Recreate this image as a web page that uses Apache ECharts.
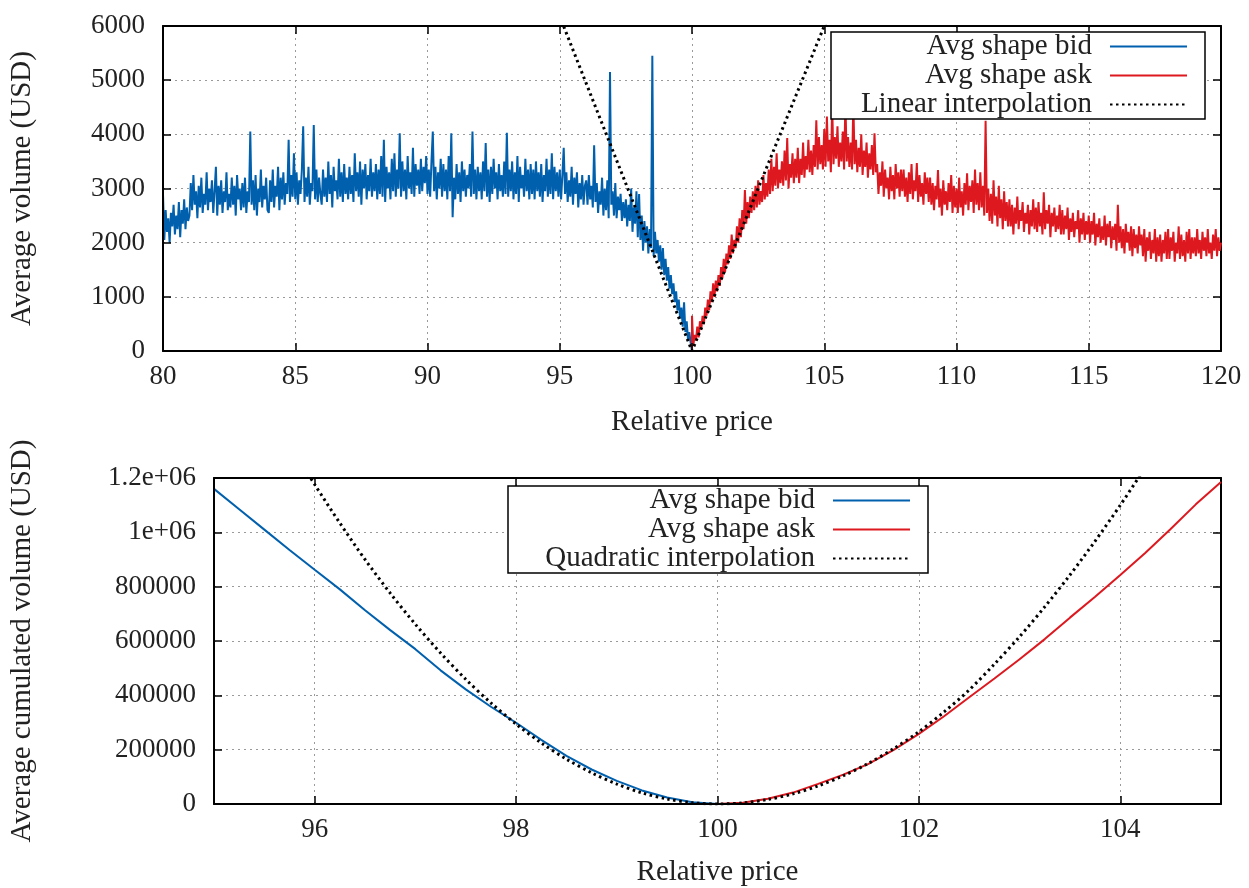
<!DOCTYPE html>
<html><head><meta charset="utf-8">
<script src="https://cdn.jsdelivr.net/npm/echarts@6/dist/echarts.min.js"></script>
<style>html,body{margin:0;padding:0;background:#fff}#c{width:1249px;height:888px}</style>
</head><body><div id="c"></div><script>
// ---- DATA ----
const bidStart = 80, askStart = 100, noiseStep = 0.05;
const bidVolume = [
 2900,2050,2600,2200,2450,2000,2550,2300,2700,2150,2500,2250,2750,2100,2600,2350,2800,2250,2650,2400,
 2500,3100,2600,3250,2700,2950,2450,3050,2650,3200,2550,2900,2700,3300,2600,3000,2750,3150,2550,2950,
 3400,2500,3050,2700,3150,2550,2950,2750,3300,2600,2900,2650,3200,2700,3050,2500,3250,2800,3000,2600,
 3100,2650,3200,2550,2950,2750,4050,2700,3150,2600,3250,2500,3000,2750,3350,2650,3050,2800,3200,2600,
 2550,3150,2750,3350,2650,3050,2850,3400,2600,3200,2800,3300,2700,3100,2900,3900,2750,3250,2850,3650,
 2800,3300,2700,3150,2900,3350,4150,2750,3200,2850,3400,2700,3100,2950,4170,2800,3350,2750,3200,2900,
 2700,3350,2850,3200,2750,3500,2900,3250,2650,3400,2950,3150,2800,3550,2850,3300,2750,3450,2900,3200,
 2800,3400,2900,3250,2750,3650,2950,3300,2850,3500,2700,3350,3000,3450,2800,3250,2950,3550,2850,3300,
 2950,3450,2800,3350,2900,3600,2850,3900,2750,3400,3000,3300,2800,3550,2950,3650,2850,3350,3000,4020,
 2850,3500,2950,3350,2800,3600,3000,3300,2900,3750,2850,3450,3050,3350,2900,3550,2950,3400,3100,3600,
 2900,3350,2850,3500,4050,2950,3400,2800,3300,3000,3550,2850,3450,2950,3350,2800,3600,2950,4020,2470,
 3200,2800,3450,2900,3300,2750,3500,2950,3350,2850,3250,3000,3450,2850,4050,2900,3350,2800,3400,2950,
 3300,2800,3500,2950,3840,2850,3350,2750,3400,2900,3550,3000,3300,2800,3450,2950,3250,2850,3500,2900,
 4030,2850,3350,2950,3500,2800,3300,2900,3600,2750,3400,3000,3250,2850,3550,2950,3350,2800,3450,2900,
 3350,2800,3500,2950,3300,2850,3450,2750,3250,2950,3550,2850,3350,2900,3650,2800,3400,2950,3300,2850,
 3350,2800,3250,3750,2900,3300,2750,3150,2850,3400,2700,3200,2900,3300,2650,3100,2800,3250,2700,3050,
 3150,2700,3250,2800,3050,2650,3800,2750,3100,2550,2950,2700,3200,2500,3000,2600,3150,2450,5150,2700,
 2950,2500,3100,2450,2850,2600,2900,2400,2750,2450,2800,2300,2700,2400,3000,2200,2650,2350,2950,2100,
 2900,2050,2500,1850,2400,2000,2300,1800,2250,1900,5450,1750,2200,1800,2050,1650,1950,1500,1900,1400,
 1700,1300,1550,1150,1400,1050,1250,900,1100,750,950,600,800,450,900,350,550,200,350,150,
 0];
const askVolume = [
 650,100,300,200,450,250,550,400,650,500,800,650,950,750,1100,900,1250,1000,1300,1100,
 1400,1200,1550,1350,1700,1450,1800,1600,1950,1700,2150,1800,2050,1900,2300,2000,2450,2100,2600,2250,
 2970,2350,2750,2450,2850,2550,2950,2600,3050,2650,3150,2700,2950,2750,3250,2800,3100,2850,3350,2900,
 3550,2950,3400,3050,3650,3000,3350,3100,3500,3050,3700,3150,3930,3000,3450,3200,3650,3100,3550,3200,
 3750,3100,3550,3250,3850,3200,3600,3350,3900,3300,3700,3250,3800,3400,4260,3350,3950,3450,3800,3350,
 4100,3400,4330,3500,3900,3300,4540,3450,3950,3550,4150,3400,3850,3500,4050,3350,4600,3500,3950,3400,
 3850,3350,4580,3450,3900,3300,3750,3400,4000,3250,3700,3400,3850,3200,3650,3350,3800,3250,4020,3300,
 3450,2900,3300,3050,3500,2850,3350,3000,3200,2800,3400,2950,3250,2800,3450,3000,3300,2850,3350,2950,
 3350,2850,3200,2750,3300,2900,3450,2800,3150,2950,3470,2750,3250,2850,3100,2700,3300,2900,3200,2750,
 3200,2700,3100,2600,3050,2800,3340,2650,3000,2500,3150,2700,2950,2600,3100,2750,3250,2550,3050,2650,
 3000,2550,3200,2650,2950,2500,3100,2700,3280,2600,3050,2750,3150,2550,3350,2700,3100,2600,3300,2650,
 3050,2500,4250,2550,3000,2400,2900,2350,3150,2500,2850,2300,3050,2450,2800,2250,2950,2400,2750,2300,
 2800,2300,2700,2150,2650,2350,2850,2250,2600,2400,2750,2200,2550,2350,2700,2150,2600,2300,2800,2250,
 2650,2200,2750,2300,2550,2150,2930,2250,2600,2350,2700,2100,2550,2300,2650,2200,2500,2250,2700,2150,
 2600,2150,2500,2250,2650,2050,2450,2200,2550,2100,2400,2250,2600,2000,2450,2150,2550,2050,2400,2150,
 2500,2000,2400,2150,2550,1950,2350,2100,2450,2000,2300,2050,2500,1950,2350,2100,2400,1900,2300,2050,
 2350,1850,2700,2000,2300,1900,2250,1800,2350,2000,2200,1850,2300,1750,2250,1900,2150,1800,2300,1950,
 2150,1750,2250,1650,2100,1850,2200,1700,2050,1800,2250,1650,2100,1750,2150,1650,2050,1800,2200,1700,
 2250,1700,2100,1850,2200,1650,2000,1800,2300,1700,2150,1750,2050,1650,2200,1800,2250,1700,2100,1800,
 2100,1750,2250,1800,2050,1700,2200,1850,2100,1750,2250,1800,2000,1700,2150,1850,2250,1750,2100,1850,
 2000];
const linearX = [94.9, 100, 105.1];
const linearY = [6300, 0, 6120];

const cumBidX = [95,95.25,95.5,95.75,96,96.25,96.5,96.75,97,97.25,97.5,97.75,98,98.25,98.5,98.75,99,99.25,99.5,99.75,100,105];
const cumBidY = [1160000,1085000,1010000,935000,862000,790000,713000,640000,570000,492000,422000,358000,299000,236000,177000,127000,85000,50000,24000,6500,0,0];
const cumAskX = [95,100,100.25,100.5,100.75,101,101.25,101.5,101.75,102,102.25,102.5,102.75,103,103.25,103.5,103.75,104,104.25,104.5,104.75,105];
const cumAskY = [0,0,5000,19000,42000,74000,108000,148000,199000,258000,323000,393000,462000,533000,607000,686000,763000,843000,925000,1012000,1103000,1185000];
const quadX = [95.9,96,96.25,96.5,96.75,97,97.25,97.5,97.75,98,98.25,98.5,98.75,99,99.25,99.5,99.75,100,100.25,100.5,100.75,101,101.25,101.5,101.75,102,102.25,102.5,102.75,103,103.25,103.5,103.75,104,104.25];
const quadY = [1236000,1176000,1034000,900000,776000,661500,556000,459000,372000,294000,225000,165000,115000,73500,41000,18400,4600,0,4200,16700,37500,66500,104000,150000,204000,266000,339000,420000,515000,616000,726000,843000,968000,1100000,1240000];

const topXTicks = [80,85,90,95,100,105,110,115,120];
const topYTicks = ['0','1000','2000','3000','4000','5000','6000'];
const bottomYLabels = {0:'0',200000:'200000',400000:'400000',600000:'600000',800000:'800000',1000000:'1e+06',1200000:'1.2e+06'};
const names = ['Avg shape bid','Avg shape ask','Linear interpolation','Quadratic interpolation'];

// ---- build series data ----
const bidTop = bidVolume.map((v,i)=>[+(bidStart + i*noiseStep).toFixed(2), v]);
bidTop.push([120, 0]);
const askTop = [[80,0],[100,0]].concat(askVolume.map((v,i)=>[+(askStart + i*noiseStep).toFixed(2), v]));
const linTop = linearX.map((x,i)=>[x, linearY[i]]);
const cumBid = cumBidX.map((x,i)=>[x, cumBidY[i]]);
const cumAsk = cumAskX.map((x,i)=>[x, cumAskY[i]]);
const quad = quadX.map((x,i)=>[x, quadY[i]]);

const FONT = 'Liberation Serif';
const TXT = {fontFamily: FONT, fontSize: 27, color: '#222'};
const NAMETXT = {fontFamily: FONT, fontSize: 29, color: '#222'};
const BLUE = '#0060ad', RED = '#dd181f';
const axLine = {show: true, onZero: false, lineStyle: {color: '#000', width: 2}};
const axTick = {show: true, inside: true, length: 8, lineStyle: {color: '#000', width: 1.5}};
const split = {show: true, lineStyle: {color: '#9a9a9a', type: [2, 4], width: 1}};

// mirror axes (top / right) carry the dotted grid and sit below the data
function mirrorX(gi, extra) {
  return Object.assign({gridIndex: gi, type: 'value', position: 'top', z: 0, axisLine: axLine, axisTick: axTick,
    axisLabel: {show: false}, splitLine: split}, extra);
}
function mirrorY(gi, extra) {
  return Object.assign({gridIndex: gi, type: 'value', position: 'right', z: 0, axisLine: axLine, axisTick: axTick,
    axisLabel: {show: false}, splitLine: split}, extra);
}
function legendCfg(left, top, textWidth, data) {
  return {z: 12, left: left, top: top, orient: 'vertical', align: 'right', itemGap: 0, itemWidth: 77, itemHeight: 14,
    padding: [0, 17, 0, 17], borderColor: '#000', borderWidth: 1.5, backgroundColor: '#fff',
    data: data, selectedMode: false,
    itemStyle: {opacity: 0, borderWidth: 0},
    formatter: n => '{a|' + n + '}',
    textStyle: {rich: {a: {width: textWidth, align: 'right', fontFamily: FONT, fontSize: 29, color: '#222', lineHeight: 29, padding: [0, 13, 0, 0]}}}};
}

const chart = echarts.init(document.getElementById('c'), null, {renderer: 'canvas'});
const option = {
  animation: false,
  backgroundColor: '#fff',
  grid: [
    {left: 162, top: 26, width: 1059, height: 325},
    {left: 214, top: 478, width: 1007, height: 327}
  ],
  xAxis: [
    {gridIndex: 0, type: 'value', z: 10, min: topXTicks[0], max: topXTicks[topXTicks.length-1], interval: 5,
     name: 'Relative price', nameLocation: 'middle', nameGap: 57, nameTextStyle: NAMETXT,
     axisLine: axLine, axisTick: axTick, splitLine: {show: false},
     axisLabel: Object.assign({margin: 12}, TXT)},
    mirrorX(0, {min: 80, max: 120, interval: 5}),
    {gridIndex: 1, type: 'value', z: 10, min: 95, max: 105, splitNumber: 5,
     name: 'Relative price', nameLocation: 'middle', nameGap: 54, nameTextStyle: NAMETXT,
     axisLine: axLine, axisTick: axTick, splitLine: {show: false},
     axisLabel: Object.assign({margin: 12, showMinLabel: false, showMaxLabel: false}, TXT)},
    mirrorX(1, {min: 95, max: 105, splitNumber: 5})
  ],
  yAxis: [
    {gridIndex: 0, type: 'value', z: 10, min: 0, max: 6000, interval: 1000,
     name: 'Average volume (USD)', nameLocation: 'middle', nameGap: 126, nameRotate: 90, nameTextStyle: NAMETXT,
     axisLine: axLine, axisTick: axTick, splitLine: {show: false},
     axisLabel: Object.assign({margin: 18, formatter: (v, i) => topYTicks[i] !== undefined ? topYTicks[i] : String(v)}, TXT)},
    mirrorY(0, {min: 0, max: 6000, interval: 1000}),
    {gridIndex: 1, type: 'value', z: 10, min: 0, max: 1200000, interval: 200000,
     name: 'Average cumulated volume (USD)', nameLocation: 'middle', nameGap: 177, nameRotate: 90, nameTextStyle: NAMETXT,
     axisLine: axLine, axisTick: axTick, splitLine: {show: false},
     axisLabel: Object.assign({margin: 18, formatter: v => bottomYLabels[v] !== undefined ? bottomYLabels[v] : String(v)}, TXT)},
    mirrorY(1, {min: 0, max: 1200000, interval: 200000})
  ],
  legend: [
    legendCfg(831, 32, 244, [names[0], names[1], names[2]]),
    legendCfg(508, 486, 290, [names[0], names[1], names[3]])
  ],
  series: [
    {name: names[0], type: 'line', xAxisIndex: 0, yAxisIndex: 0, data: bidTop, symbol: 'none', z: 3, sampling: null,
     lineStyle: {color: BLUE, width: 2}, itemStyle: {color: BLUE}},
    {name: names[1], type: 'line', xAxisIndex: 0, yAxisIndex: 0, data: askTop, symbol: 'none', z: 3,
     lineStyle: {color: RED, width: 2}, itemStyle: {color: RED}},
    {name: names[2], type: 'line', xAxisIndex: 0, yAxisIndex: 0, data: linTop, symbol: 'none', z: 4,
     lineStyle: {color: '#000', width: 3, type: [2.5, 3.5]}, itemStyle: {color: '#000'}},
    {name: names[0], type: 'line', xAxisIndex: 2, yAxisIndex: 2, data: cumBid, symbol: 'none', z: 3,
     lineStyle: {color: BLUE, width: 2}, itemStyle: {color: BLUE}},
    {name: names[1], type: 'line', xAxisIndex: 2, yAxisIndex: 2, data: cumAsk, symbol: 'none', z: 3,
     lineStyle: {color: RED, width: 2}, itemStyle: {color: RED}},
    {name: names[3], type: 'line', xAxisIndex: 2, yAxisIndex: 2, data: quad, symbol: 'none', z: 4, smooth: 0.3,
     lineStyle: {color: '#000', width: 3, type: [2.5, 3.5]}, itemStyle: {color: '#000'}}
  ]
};
chart.setOption(option);
</script></body></html>
